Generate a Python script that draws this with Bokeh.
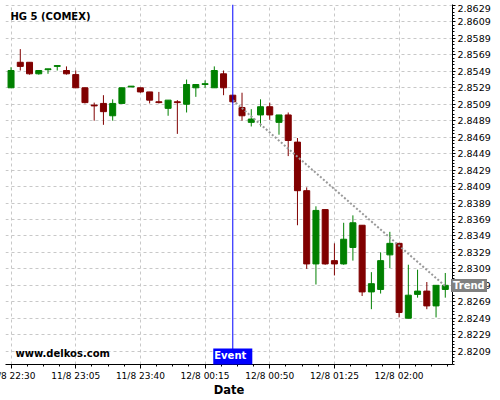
from bokeh.plotting import figure
from bokeh.models import (Range1d, FixedTicker, PrintfTickFormatter, Span, Label,
                          ColumnDataSource, Div)
from bokeh.embed import file_html
from bokeh.resources import INLINE

# ---- data (5-minute candles, HG 5 COMEX) ----
times = ["22:30", "22:35", "22:40", "22:45", "22:50", "22:55", "23:00", "23:05",
         "23:10", "23:15", "23:20", "23:25", "23:30", "23:35", "23:40", "23:45",
         "23:50", "23:55", "00:00", "00:05", "00:10", "00:15", "00:20", "00:25",
         "00:30", "00:35", "00:40", "00:45", "00:50", "00:55", "01:00", "01:05",
         "01:10", "01:15", "01:20", "01:25", "01:30", "01:35", "01:40", "01:45",
         "01:50", "01:55", "02:00", "02:05", "02:10", "02:15", "02:20", "02:25"]
opens = [2.8529, 2.8560, 2.8560, 2.8546, 2.8551, 2.8555, 2.8550, 2.8545,
         2.8529, 2.8508, 2.8510, 2.8495, 2.8510, 2.8530, 2.8529, 2.8524,
         2.8512, 2.8504, 2.8512, 2.8509, 2.8529, 2.8533, 2.8529, 2.8546,
         2.8520, 2.8505, 2.8487, 2.8496, 2.8506, 2.8487, 2.8496, 2.8463,
         2.8404, 2.8315, 2.8381, 2.8319, 2.8315, 2.8335, 2.8362, 2.8281,
         2.8284, 2.8326, 2.8340, 2.8249, 2.8278, 2.8282, 2.8264, 2.8284]
highs = [2.8554, 2.8576, 2.8560, 2.8550, 2.8552, 2.8556, 2.8555, 2.8550,
         2.8529, 2.8511, 2.8520, 2.8515, 2.8529, 2.8531, 2.8529, 2.8524,
         2.8524, 2.8514, 2.8514, 2.8539, 2.8533, 2.8538, 2.8555, 2.8550,
         2.8520, 2.8523, 2.8503, 2.8515, 2.8511, 2.8496, 2.8499, 2.8468,
         2.8408, 2.8385, 2.8381, 2.8340, 2.8365, 2.8374, 2.8362, 2.8305,
         2.8329, 2.8354, 2.8340, 2.8314, 2.8308, 2.8293, 2.8289, 2.8304]
lows = [2.8529, 2.8550, 2.8545, 2.8545, 2.8546, 2.8550, 2.8545, 2.8529,
        2.8510, 2.8489, 2.8484, 2.8489, 2.8510, 2.8530, 2.8523, 2.8510,
        2.8510, 2.8495, 2.8473, 2.8499, 2.8518, 2.8529, 2.8529, 2.8520,
        2.8511, 2.8489, 2.8482, 2.8482, 2.8490, 2.8472, 2.8446, 2.8362,
        2.8309, 2.8290, 2.8314, 2.8301, 2.8314, 2.8319, 2.8276, 2.8260,
        2.8279, 2.8310, 2.8250, 2.8249, 2.8274, 2.8260, 2.8250, 2.8274]
closes = [2.8550, 2.8555, 2.8546, 2.8550, 2.8552, 2.8556, 2.8546, 2.8529,
          2.8511, 2.8507, 2.8500, 2.8510, 2.8529, 2.8531, 2.8524, 2.8514,
          2.8511, 2.8514, 2.8511, 2.8533, 2.8533, 2.8534, 2.8550, 2.8529,
          2.8512, 2.8495, 2.8491, 2.8506, 2.8496, 2.8496, 2.8465, 2.8404,
          2.8315, 2.8380, 2.8315, 2.8315, 2.8345, 2.8365, 2.8281, 2.8291,
          2.8319, 2.8340, 2.8256, 2.8277, 2.8282, 2.8264, 2.8289, 2.8289]

x_tick_idx = [0, 7, 14, 21, 28, 35, 42]
x_tick_labels = ["11/8 22:30", "11/8 23:05", "11/8 23:40", "12/8 00:15",
                 "12/8 00:50", "12/8 01:25", "12/8 02:00"]
y_ticks = [2.8209, 2.8229, 2.8249, 2.8269, 2.8289, 2.8309, 2.8329, 2.8349,
           2.8369, 2.8389, 2.8409, 2.8429, 2.8449, 2.8469, 2.8489, 2.8509,
           2.8529, 2.8549, 2.8569, 2.8589, 2.8609, 2.8629]

event_idx = 24
trend_x = [24, 47]
trend_y = [2.8514, 2.8288]

UP = "#008000"
DOWN = "#800000"

xs = list(range(len(times)))
src = ColumnDataSource(dict(
    x=xs, time=times, open=opens, high=highs, low=lows, close=closes,
    top=[max(o, c) for o, c in zip(opens, closes)],
    bottom=[min(o, c) for o, c in zip(opens, closes)],
    color=[UP if c >= o else DOWN for o, c in zip(opens, closes)],
))

X0, X1 = -0.6, 47.78
Y0, Y1 = 2.81928, 2.86302
LEFT_PAD = 25
p = figure(frame_width=447, frame_height=360,
           x_range=Range1d(X0, X1), y_range=Range1d(Y0, Y1),
           y_axis_location="right", output_backend="svg", toolbar_location=None,
           min_border_left=LEFT_PAD, min_border_top=0, min_border_right=40,
           min_border_bottom=0)
p.styles = {"position": "absolute", "left": f"{5 - LEFT_PAD}px", "top": "4px"}
p.outline_line_color = None
p.background_fill_color = "white"
p.border_fill_color = "white"

# grids
for g in (p.xgrid[0], p.ygrid[0]):
    g.grid_line_color = "#c8c8c8"
    g.grid_line_dash = "3 3"
    g.grid_line_width = 1

# x axis
x_minor = []
for m in [-7] + x_tick_idx:
    for k in (1.75, 3.5, 5.25):
        v = m + k
        if X0 < v < X1:
            x_minor.append(v)
xt = FixedTicker(ticks=x_tick_idx, minor_ticks=x_minor)
xa = p.xaxis[0]
xa.ticker = xt
p.xgrid[0].ticker = xt
xa.major_label_overrides = {i: lab for i, lab in zip(x_tick_idx, x_tick_labels)}
xa.axis_label = "Date"
xa.axis_label_text_font = "DejaVu Sans"
xa.axis_label_text_font_size = "11.5px"
xa.axis_label_text_font_style = "bold"
xa.axis_label_text_color = "black"
xa.axis_label_standoff = -1
xa.major_label_standoff = 2
xa.major_label_text_font = "DejaVu Sans"
xa.major_label_text_font_size = "9px"
xa.major_label_text_color = "black"
xa.major_tick_out = 4
xa.major_tick_in = 0
xa.minor_tick_out = 2
xa.minor_tick_in = 0
xa.axis_line_color = "black"

# y axis
y_minor = []
for t in [2.8189] + y_ticks:
    for k in (1, 2, 3, 4):
        v = t + 0.0004 * k
        if Y0 < v < Y1:
            y_minor.append(v)
yt = FixedTicker(ticks=y_ticks, minor_ticks=y_minor)
ya = p.yaxis[0]
ya.ticker = yt
p.ygrid[0].ticker = yt
ya.formatter = PrintfTickFormatter(format="%.4f")
ya.major_label_text_font = "DejaVu Sans"
ya.major_label_text_font_size = "9.5px"
ya.major_label_text_color = "black"
ya.major_label_standoff = 2
ya.major_tick_out = 3
ya.major_tick_in = 0
ya.minor_tick_out = 2
ya.minor_tick_in = 0
ya.axis_line_color = "black"

# candles
p.segment(x0="x", y0="low", x1="x", y1="high", line_color="color", line_width=1, source=src)
p.vbar(x="x", width=0.65, top="top", bottom="bottom", fill_color="color",
       line_color="color", line_width=1, source=src)

# trend line
p.line(trend_x, trend_y, line_color="#999999", line_width=2, line_dash="2 2")

# event line
p.add_layout(Span(location=event_idx, dimension="height", line_color="#0000ff", line_width=1))

# labels
p.add_layout(Label(x=-0.06, y=2.86162, text="HG 5 (COMEX)", text_font="DejaVu Sans",
                   text_font_size="10px", text_font_style="bold", text_color="black",
                   text_align="left", text_baseline="middle"))
p.add_layout(Label(x=0.48, y=2.82058, text="www.delkos.com", text_font="DejaVu Sans",
                   text_font_size="10px", text_font_style="bold", text_color="black",
                   text_align="left", text_baseline="middle"))
p.add_layout(Label(x=event_idx, y=2.82013, text="Event", text_font="DejaVu Sans",
                   text_font_size="10px", text_font_style="bold", text_color="white",
                   text_align="center", text_baseline="middle",
                   background_fill_color="#0000ff", padding=(1, 6, 1, 6)))

# "Trend" tag sitting on the price axis (outside the plot frame)
trend_div = Div(text="Trend", styles={
    "position": "absolute", "left": "451px", "top": "279px",
    "background-color": "#808080", "color": "#ffffff",
    "font-family": "DejaVu Sans", "font-size": "10px", "font-weight": "bold",
    "line-height": "13px", "padding": "0px 2px 0px 2px", "margin": "0px",
})

open("out.html", "w").write(file_html([p, trend_div], INLINE))
